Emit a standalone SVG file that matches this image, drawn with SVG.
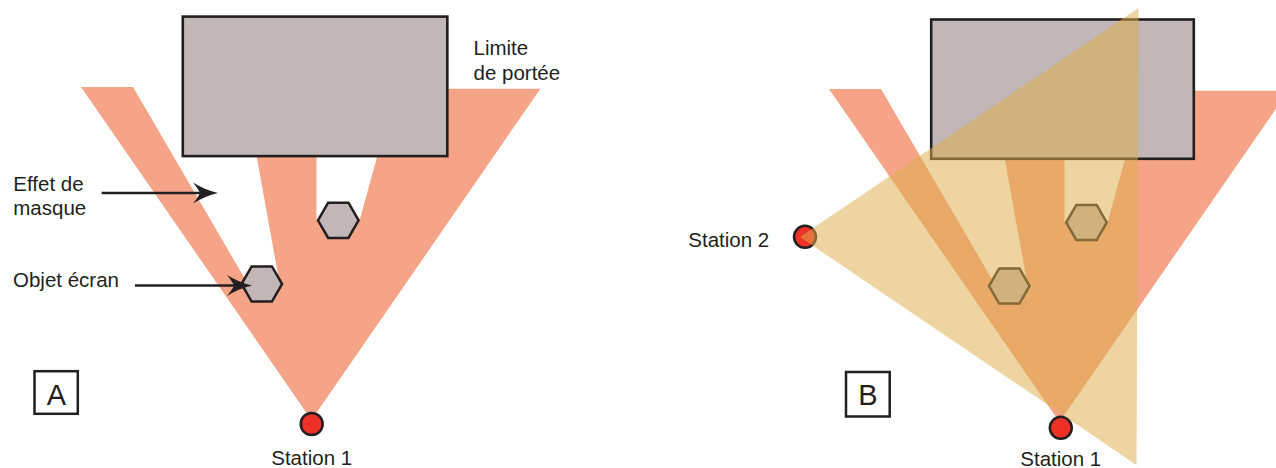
<svg xmlns="http://www.w3.org/2000/svg" width="1276" height="468" viewBox="0 0 1276 468">
<style>
.fan{fill:#f6a488;stroke:none}
.blk{fill:#c1b7b8;stroke:#231f20;stroke-width:2.6}
.hx{fill:#c1b7b8;stroke:#231f20;stroke-width:2.5;stroke-linejoin:miter}
.st{fill:#ed3126;stroke:#231f20;stroke-width:2.5}
.yel{fill:#ddae4c;fill-opacity:0.53;stroke:none}
.ln{stroke:#231f20;stroke-width:2.6;fill:none}
.ah{fill:#231f20}
.lbl{font-family:"Liberation Sans",Arial,sans-serif;font-size:20.5px;fill:#231f20}
.big{font-family:"Liberation Sans",Arial,sans-serif;font-size:29px;fill:#231f20}
.box{fill:#fff;stroke:#231f20;stroke-width:2.5}
</style>
<defs>
<polygon id="hex" points="-20.3,0 -10.15,-17.58 10.15,-17.58 20.3,0 10.15,17.58 -10.15,17.58"/>
<path id="head" d="M0,0 Q-13,-3 -25,-10.5 Q-19,-3 -18,0 Q-19,3 -25,10.5 Q-13,3 0,0 Z"/>
<polygon id="fanshape" points="311.5,420 81,87 133,87 245,279 262,284 279,280 256.4,155 316.5,155 316.5,220 338,222 360,219 377.6,155 447,155 447,88.7 540.4,88.7"/>
</defs>

<!-- Panel A -->
<g id="panelA">
  <g id="fanA"><use href="#fanshape" class="fan"/></g>
  <g id="limitA"><rect class="blk" x="182.8" y="16.6" width="264.5" height="139.5"/></g>
  <g id="hexA1"><use href="#hex" class="hx" x="261.8" y="284"/></g>
  <g id="hexA2"><use href="#hex" class="hx" x="338.3" y="220.3"/></g>
  <g id="station1A"><circle class="st" cx="311.7" cy="424" r="11"/></g>
  <g id="connectorsA">
    <line class="ln" x1="101.7" y1="193" x2="205" y2="193"/>
    <use href="#head" class="ah" x="218" y="193"/>
    <line class="ln" x1="135" y1="285.5" x2="240" y2="285.5"/>
    <use href="#head" class="ah" x="252" y="285.5"/>
  </g>
  <g id="labelsA">
    <text class="lbl" x="13.3" y="190.7">Effet de</text>
    <text class="lbl" x="13.3" y="215">masque</text>
    <text class="lbl" x="13" y="287">Objet écran</text>
    <text class="lbl" x="473.5" y="55">Limite</text>
    <text class="lbl" x="473.5" y="80">de portée</text>
    <text class="lbl" x="311.7" y="465" text-anchor="middle">Station 1</text>
  </g>
  <g id="boxA">
    <rect class="box" x="34.5" y="371.2" width="43.3" height="42.6"/>
    <text class="big" x="56.5" y="405" text-anchor="middle">A</text>
  </g>
</g>

<!-- Panel B -->
<g id="panelB">
  <g id="fanB"><use href="#fanshape" class="fan" transform="translate(748,2)"/></g>
  <g id="limitB"><rect class="blk" x="931.2" y="19.5" width="262.6" height="139.3"/></g>
  <g id="hexB1"><use href="#hex" class="hx" x="1009.3" y="286"/></g>
  <g id="hexB2"><use href="#hex" class="hx" x="1086.5" y="222.5"/></g>
  <g id="station1B"><circle class="st" cx="1060.8" cy="427.8" r="11"/></g>
  <g id="station2"><circle class="st" cx="805" cy="236.8" r="11"/></g>
  <g id="fanStation2"><polygon class="yel" points="800,237 1138.5,8 1136.5,465"/></g>
  <g id="labelsB">
    <text class="lbl" x="688.3" y="247.3">Station 2</text>
    <text class="lbl" x="1060.8" y="465.5" text-anchor="middle">Station 1</text>
  </g>
  <g id="boxB">
    <rect class="box" x="846" y="372" width="43.7" height="44.5"/>
    <text class="big" x="867.8" y="404.5" text-anchor="middle">B</text>
  </g>
</g>
</svg>
